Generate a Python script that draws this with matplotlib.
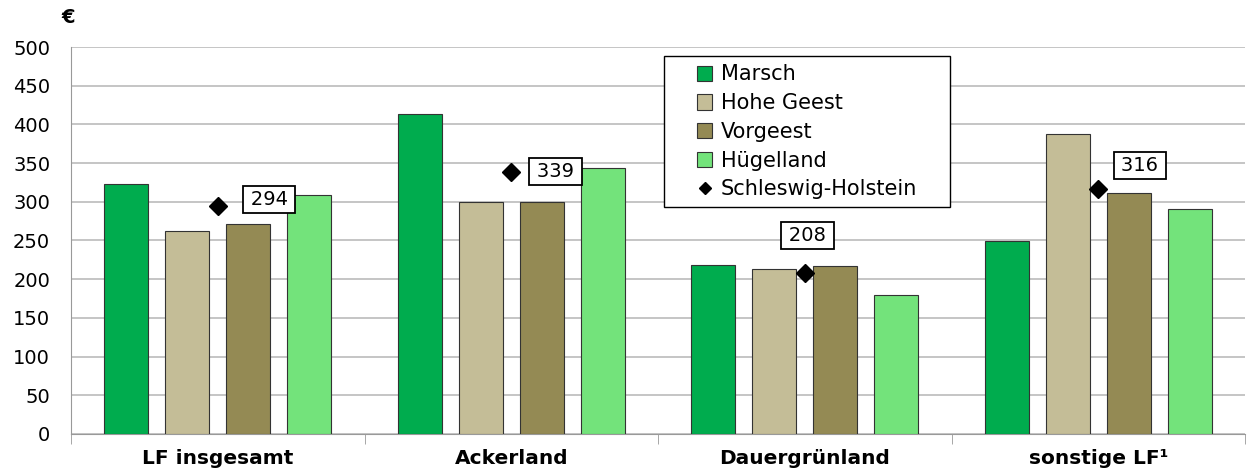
import numpy as np
import matplotlib.pyplot as plt
from matplotlib.lines import Line2D
from matplotlib.patches import Patch, Rectangle

categories = ['LF insgesamt', 'Ackerland', 'Dauergrünland', 'sonstige LF¹']
series = ['Marsch', 'Hohe Geest', 'Vorgeest', 'Hügelland']
marsch = [323, 413, 218, 249]
hohe_geest = [262, 300, 213, 387]
vorgeest = [271, 300, 217, 312]
huegelland = [309, 344, 180, 291]
schleswig_holstein = [294, 339, 208, 316]

colors = ['#00AC4E', '#C4BD97', '#948A54', '#73E37B']
# label offsets in points (dx, dy) relative to marker
label_offsets = [(37, 5), (32, 0), (2, 27), (30, 17)]

plt.rcParams['font.family'] = ['DejaVu Sans']

fig = plt.figure(figsize=(12.48, 4.73), dpi=100)
ax = fig.add_axes([0.0569, 0.0825, 0.9407, 0.8181])

x = np.arange(len(categories))
step = 0.208
width = 0.15
values = [marsch, hohe_geest, vorgeest, huegelland]
for i, (vals, col) in enumerate(zip(values, colors)):
    ax.bar(x + (i - 1.5) * step, vals, width, color=col,
           edgecolor='#333333', linewidth=0.8, zorder=3)

ax.plot(x, schleswig_holstein, linestyle='none', marker='D', color='black',
        markersize=9, zorder=4)
for xi, v, off in zip(x, schleswig_holstein, label_offsets):
    ax.annotate('\u2009' + str(v) + '\u2009', (xi, v), xytext=off,
                textcoords='offset points', ha='center', va='center', fontsize=14,
                bbox=dict(boxstyle='square,pad=0.2', fc='white', ec='black', lw=1.3),
                zorder=5)

ax.set_xlim(-0.5, 3.5)
ax.set_ylim(0, 500)
ax.set_yticks(np.arange(0, 501, 50))
ax.yaxis.grid(True, color='#BBBBBB', linewidth=1.2, zorder=0)
ax.tick_params(axis='y', labelsize=14, length=0, pad=15)

ax.set_xticks(x)
ax.set_xticklabels(categories, fontsize=14.5, fontweight='bold')
ax.set_xticks(np.arange(-0.5, 3.6, 1), minor=True)
ax.tick_params(axis='x', which='major', length=0, pad=11)
ax.tick_params(axis='x', which='minor', length=7, color='#999999', direction='out')

for s in ['top', 'right']:
    ax.spines[s].set_visible(False)
ax.spines['left'].set_color('#999999')
ax.spines['bottom'].set_color('#999999')

fig.text(0.049, 0.962, '€', fontsize=14, fontweight='bold', ha='left', va='center')

handles = [Patch(facecolor=c, edgecolor='#333333', linewidth=0.8) for c in colors]
handles.append(Line2D([], [], linestyle='none', marker='D', color='black', markersize=6))
leg = ax.legend(handles, series + ['Schleswig-Holstein'], loc='upper left',
                bbox_to_anchor=(0.533, 0.955), fontsize=15, frameon=False,
                handlelength=0.75, handleheight=0.75, handletextpad=0.4,
                labelspacing=0.42, borderpad=0, borderaxespad=0)
leg.set_zorder(6)

# Excel-style frame: wide horizontal padding around the legend
fig.canvas.draw()
bb = leg.get_window_extent().transformed(fig.transFigure.inverted())
padx, pady = 33 / 1248, 8 / 473
frame = Rectangle((bb.x0 - padx, bb.y0 - pady), bb.width + 2 * padx, bb.height + 2 * pady,
                  transform=fig.transFigure, fc='white', ec='black', lw=1.0, zorder=5)
fig.add_artist(frame)
leg.remove()
fig.add_artist(leg)
leg.set_zorder(6)

fig.savefig('out.png', dpi=100)
